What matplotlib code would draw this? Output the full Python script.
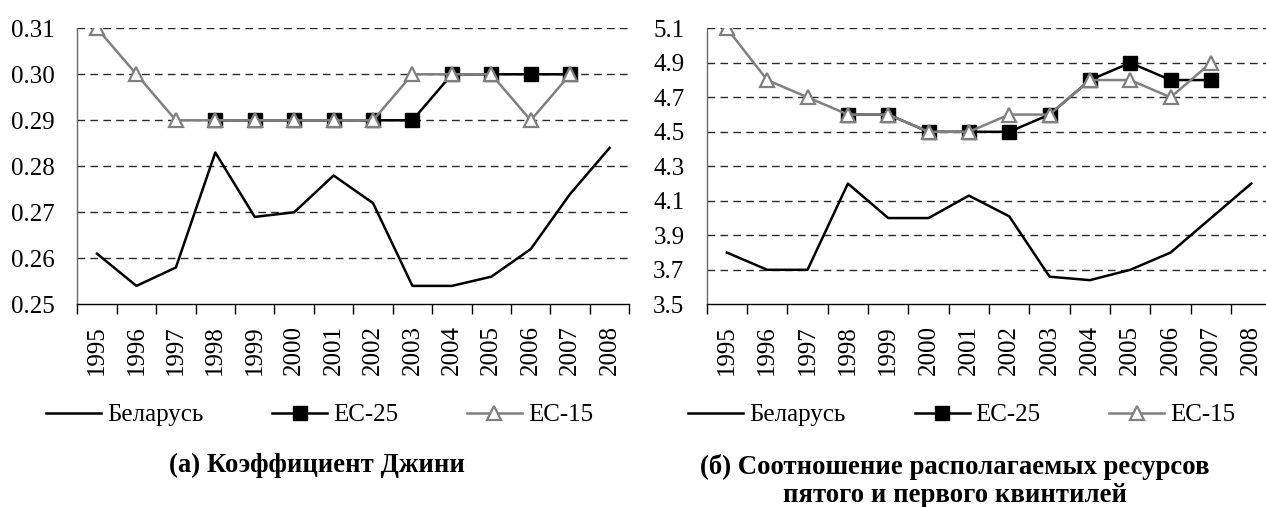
import matplotlib
matplotlib.use("Agg")
import matplotlib.pyplot as plt
from matplotlib import font_manager as fm
from matplotlib.ticker import FixedLocator, FormatStrFormatter, NullFormatter
import numpy as np

years = ["1995", "1996", "1997", "1998", "1999", "2000", "2001",
         "2002", "2003", "2004", "2005", "2006", "2007", "2008"]

series_names = ["Беларусь", "ЕС-25", "ЕС-15"]

# (a) Gini coefficient
gini_belarus = [0.261, 0.254, 0.258, 0.283, 0.269, 0.270, 0.278,
                0.272, 0.254, 0.254, 0.256, 0.262, 0.274, 0.284]
gini_eu25 = [None, None, None, 0.29, 0.29, 0.29, 0.29,
             0.29, 0.29, 0.30, 0.30, 0.30, 0.30, None]
gini_eu15 = [0.31, 0.30, 0.29, 0.29, 0.29, 0.29, 0.29,
             0.29, 0.30, 0.30, 0.30, 0.29, 0.30, None]

# (б) quintile ratio
quint_belarus = [3.80, 3.70, 3.70, 4.20, 4.00, 4.00, 4.13,
                 4.01, 3.66, 3.64, 3.70, 3.80, 4.00, 4.20]
quint_eu25 = [None, None, None, 4.6, 4.6, 4.5, 4.5,
              4.5, 4.6, 4.8, 4.9, 4.8, 4.8, None]
quint_eu15 = [5.1, 4.8, 4.7, 4.6, 4.6, 4.5, 4.5,
              4.6, 4.6, 4.8, 4.8, 4.7, 4.9, None]

title_a = "(а) Коэффициент Джини"
title_b_lines = ["(б) Соотношение располагаемых ресурсов",
                 "пятого и первого квинтилей"]

available = {f.name for f in fm.fontManager.ttflist}
serif_choice = "DejaVu Serif"
for cand in ["Liberation Serif", "Times New Roman", "Tinos", "Nimbus Roman"]:
    if cand in available:
        serif_choice = cand
        break
plt.rcParams['font.family'] = 'serif'
plt.rcParams['font.serif'] = [serif_choice, 'DejaVu Serif']

W, H = 1266, 507
fig = plt.figure(figsize=(W / 100, H / 100), dpi=100)

def fx(px):
    return px / W

def fy(py):
    return 1 - py / H

GRAY = "#808080"

def to_arr(v):
    return np.array([np.nan if x is None else x for x in v], dtype=float)

def make_panel(rect, bel, eu25, eu15, ylim, yticks, fmt):
    ax = fig.add_axes(rect)
    x = np.arange(len(years))
    for yv in yticks[1:]:
        ax.axhline(yv, color="#2a2a2a", lw=1.0, ls=(0, (5.5, 3.8)), zorder=1)
    l1, = ax.plot(x, to_arr(bel), color="black", lw=1.8, zorder=3,
                  label=series_names[0])
    l2, = ax.plot(x, to_arr(eu25), color="black", lw=1.8, marker="s",
                  markersize=9.5, markerfacecolor="black",
                  markeredgecolor="black", zorder=4, label=series_names[1])
    l3, = ax.plot(x, to_arr(eu15), color=GRAY, lw=1.8, marker="^",
                  markersize=10, markerfacecolor="white",
                  markeredgecolor=GRAY, markeredgewidth=1.6, zorder=5,
                  label=series_names[2])
    ax.set_xlim(-0.5, len(years) - 0.5)
    ax.set_ylim(*ylim)
    ax.set_yticks(yticks)
    ax.yaxis.set_major_formatter(FormatStrFormatter(fmt))
    ax.tick_params(axis="y", length=0, pad=16, labelsize=18)
    ax.set_xticks(x)
    ax.set_xticklabels(years, rotation=90, fontsize=18)
    ax.tick_params(axis="x", which="major", length=0, pad=15)
    ax.xaxis.set_minor_locator(FixedLocator(np.arange(-0.5, len(years), 1.0)))
    ax.xaxis.set_minor_formatter(NullFormatter())
    ax.tick_params(axis="x", which="minor", length=7, width=1.0,
                   color="black", direction="out")
    for s in ["top", "right"]:
        ax.spines[s].set_visible(False)
    ax.spines["left"].set_color("#6a6a6a")
    ax.spines["left"].set_linewidth(1.0)
    ax.spines["bottom"].set_color("black")
    ax.spines["bottom"].set_linewidth(1.0)
    return ax, [l1, l2, l3]

ytop, ybot = 28.3, 304.3
ax1, h1 = make_panel([fx(77.3), fy(ybot), fx(629.3 - 77.3), (ybot - ytop) / H],
                     gini_belarus, gini_eu25, gini_eu15,
                     (0.25, 0.31), [0.25, 0.26, 0.27, 0.28, 0.29, 0.30, 0.31], "%.2f")
ax2, h2 = make_panel([fx(706.7), fy(ybot), fx(14 * 40.34), (ybot - ytop) / H],
                     quint_belarus, quint_eu25, quint_eu15,
                     (3.5, 5.1), [3.5, 3.7, 3.9, 4.1, 4.3, 4.5, 4.7, 4.9, 5.1], "%.1f")

for handles, cx in [(h1, 319.5), (h2, 962)]:
    fig.legend(handles=handles, labels=series_names, loc="center",
               bbox_to_anchor=(fx(cx), fy(415)), ncol=3, frameon=False,
               fontsize=18, handlelength=2.2, handletextpad=0.24,
               columnspacing=2.75, borderpad=0, borderaxespad=0)

fig.text(fx(317), fy(465), title_a, ha="center", va="center",
         fontsize=19.3, fontweight="bold")
fig.text(fx(955), fy(467), title_b_lines[0], ha="center", va="center",
         fontsize=19.3, fontweight="bold")
fig.text(fx(955), fy(495), title_b_lines[1], ha="center", va="center",
         fontsize=19.3, fontweight="bold")

fig.savefig("out.png", dpi=100)
